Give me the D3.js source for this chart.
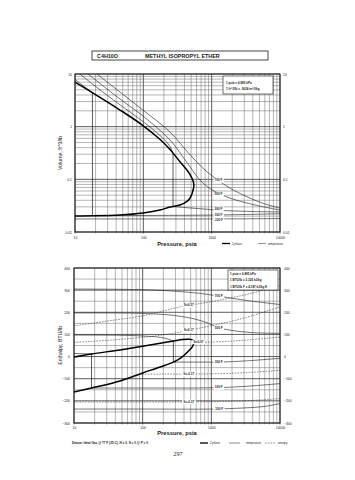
<!DOCTYPE html>
<html><head><meta charset="utf-8">
<script src="https://cdn.jsdelivr.net/npm/d3@7"></script>
<style>
body{margin:0;background:#fff}
svg{display:block;font-family:"Liberation Sans",Arial,sans-serif}
</style></head><body>
<svg id="c" width="355" height="480"></svg>
<script>
// ---------------- data ----------------
const pressureTicks = [10, 100, 1000, 10000];
const volumeTicks = [0.01, 0.1, 1, 10];
const enthalpyTicks = [400, 300, 200, 100, 0, -100, -200, -300];

// Volume chart – saturation dome (psia, ft^3/lb)
const volVapP = [10, 18.4, 45.6, 99, 176, 246, 344, 435, 518, 550];
const volVapV = [7.0, 4.34, 2.07, 1.05, 0.57, 0.37, 0.215, 0.15, 0.104, 0.078];
const volLiqP = [10, 45.6, 99, 176, 246, 344, 435, 483, 520, 550];
const volLiqV = [0.0201, 0.021, 0.0229, 0.0261, 0.0298, 0.0325, 0.038, 0.0442, 0.055, 0.078];
// Volume chart – isotherms
const volT700P = [21, 45.6, 99, 246, 485, 800, 1120, 1860, 3640, 6040, 10000];
const volT700V = [10, 4.54, 2.06, 0.79, 0.29, 0.15, 0.106, 0.068, 0.044, 0.034, 0.0285];
const volT500P = [15.5, 45.6, 99, 246, 410, 675, 1020, 1860, 4330, 10000];
const volT500V = [10, 3.34, 1.59, 0.557, 0.232, 0.097, 0.0626, 0.044, 0.0325, 0.0261];
const volT300VapP = [11.8, 20, 45.6, 99, 180, 240, 272];
const volT300VapV = [10, 5.8, 2.6, 1.25, 0.66, 0.44, 0.31];
const volT300LiqP = [272, 500, 800, 1200, 2000, 4000, 10000];
const volT300LiqV = [0.0305, 0.0285, 0.0272, 0.026, 0.0252, 0.0245, 0.024];
const volT100VapP = [10, 14, 18];
const volT100VapV = [7.9, 5.65, 4.4];
const volT100LiqP = [18, 100, 500, 1000, 3000, 10000];
const volT100LiqV = [0.0205, 0.0206, 0.0208, 0.021, 0.0215, 0.0222];
const volTm100P = [10, 100, 1000, 3000, 10000];
const volTm100V = [0.0177, 0.0177, 0.0177, 0.0178, 0.018];
const volTieP = [18, 272];
const volTieVap = [4.4, 0.31];
const volTieLiq = [0.0201, 0.0305];

// Enthalpy chart – saturation dome (psia, BTU/lb)
const hVapP = [10, 18, 47, 100, 180, 280, 380, 480, 540, 560];
const hVapH = [-2, 12, 30, 47, 60, 70, 77, 78, 74, 68];
const hLiqP = [10, 18, 47, 100, 180, 280, 356, 450, 530, 560];
const hLiqH = [-160, -142, -110, -74, -47, -25, -7, 21, 45, 68];
// Enthalpy chart – isotherms
const hT700P = [10, 100, 300, 700, 1280, 3000, 10000];
const hT700H = [305, 302, 295, 285, 273, 255, 235];
const hT500P = [10, 100, 300, 600, 1000, 1280, 2000, 4000, 10000];
const hT500H = [197, 195, 185, 168, 145, 130, 118, 108, 105];
const hT300VapP = [10, 50, 100, 180, 240, 280];
const hT300VapH = [97, 96, 93, 87, 78, 70];
const hT300LiqP = [280, 1000, 1280, 3000, 10000];
const hT300LiqH = [-25, -25, -25, -20, -8];
const hT100VapP = [10, 18];
const hT100VapH = [14, 12];
const hT100LiqP = [18, 100, 1000, 3000, 10000];
const hT100LiqH = [-142, -142, -141, -135, -122];
const hTm100P = [10, 100, 1000, 3000, 6000, 10000];
const hTm100H = [-237, -237, -237, -232, -225, -212];
const hTieP = [18, 280];
const hTieVap = [12, 70];
const hTieLiq = [-142, -25];
// Enthalpy chart – isentropes
const hS1P = [10, 30, 100, 344, 483, 1000, 3000, 10000];
const hS1H = [139, 160, 184, 224, 232, 248, 278, 320];
const hS2P = [10, 30, 100, 200, 344, 600, 1000, 2000, 4000, 10000];
const hS2H = [64, 73, 87, 98, 110, 125, 140, 160, 185, 225];
const hS3P = [560, 700, 1000, 2000, 4000, 10000];
const hS3H = [68, 65, 66, 70, 77, 88];
const hS4P = [90, 200, 500, 1000, 3000, 10000];
const hS4H = [-80, -79, -79, -78, -73, -62];
const hS5P = [10, 100, 1000, 3000, 10000];
const hS5H = [-205, -205, -204, -200, -190];

// ---------------- drawing ----------------
const svg = d3.select('#c');
const INK = '#1a1a1a';

function minorTicks(lo, hi) {
  const out = [];
  for (let e = Math.log10(lo); e < Math.log10(hi); e++)
    for (let k = 1; k < 10; k++) out.push(k * Math.pow(10, e));
  out.push(hi);
  return out;
}
function lerpLog(p, P, Y, logY) {
  const lp = Math.log10(p);
  for (let i = 0; i < P.length - 1; i++) {
    const a = Math.log10(P[i]), b = Math.log10(P[i + 1]);
    if (lp >= a && lp <= b) {
      const t = (lp - a) / (b - a);
      if (logY) return Math.pow(10, Math.log10(Y[i]) + t * (Math.log10(Y[i + 1]) - Math.log10(Y[i])));
      return Y[i] + t * (Y[i + 1] - Y[i]);
    }
  }
  return Y[Y.length - 1];
}
function tag(g, x, y, text, size) {
  const t = g.append('text').attr('x', x).attr('y', y)
    .attr('text-anchor', 'middle').attr('dominant-baseline', 'central')
    .attr('font-size', size || 3.1).attr('font-weight', 'bold').attr('fill', INK).text(text);
  const b = t.node().getBBox();
  g.insert('rect', () => t.node()).attr('x', b.x - 1.2).attr('y', b.y - 0.3)
    .attr('width', b.width + 2.4).attr('height', b.height + 0.6).attr('fill', '#fff');
}

// Title box
svg.append('rect').attr('x', 92).attr('y', 51).attr('width', 176).attr('height', 9)
  .attr('fill', 'none').attr('stroke', INK).attr('stroke-width', 0.8);
svg.append('text').attr('x', 97).attr('y', 57.8).attr('font-size', 5.4).attr('font-weight', 'bold')
  .attr('fill', INK).text('C4H10O');
svg.append('text').attr('x', 145).attr('y', 57.8).attr('font-size', 5.4).attr('font-weight', 'bold')
  .attr('fill', INK).text('METHYL ISOPROPYL ETHER');

// ---------- TOP CHART (Volume) ----------
{
  const L = 75, R = 280, T = 74, B = 232;
  const x = d3.scaleLog().domain([10, 10000]).range([L, R]);
  const y = d3.scaleLog().domain([0.01, 10]).range([B, T]);
  const g = svg.append('g');
  svg.append('clipPath').attr('id', 'clipT').append('rect')
    .attr('x', L).attr('y', T).attr('width', R - L).attr('height', B - T);

  const px = minorTicks(10, 10000), vy = minorTicks(0.01, 10);
  g.append('g').selectAll('line').data(px).join('line')
    .attr('x1', d => x(d)).attr('x2', d => x(d)).attr('y1', T).attr('y2', B + 1.5)
    .attr('stroke', d => pressureTicks.includes(d) ? '#333' : '#6a6a6a')
    .attr('stroke-width', d => pressureTicks.includes(d) ? 0.8 : 0.5);
  g.append('g').selectAll('line').data(vy).join('line')
    .attr('y1', d => y(d)).attr('y2', d => y(d)).attr('x1', L).attr('x2', R)
    .attr('stroke', d => volumeTicks.includes(d) ? '#333' : '#6a6a6a')
    .attr('stroke-width', d => volumeTicks.includes(d) ? 0.8 : 0.5);
  g.append('rect').attr('x', L).attr('y', T).attr('width', R - L).attr('height', B - T)
    .attr('fill', 'none').attr('stroke', INK).attr('stroke-width', 0.9);

  const fmtV = d => String(d);
  const ax = g.append('g').attr('transform', `translate(${L - 2},0)`)
    .call(d3.axisLeft(y).tickValues(volumeTicks).tickFormat(fmtV).tickSize(0).tickPadding(1));
  const ax2 = g.append('g').attr('transform', `translate(${R + 2},0)`)
    .call(d3.axisRight(y).tickValues(volumeTicks).tickFormat(fmtV).tickSize(0).tickPadding(1));
  const axb = g.append('g').attr('transform', `translate(0,${B + 5})`)
    .call(d3.axisBottom(x).tickValues(pressureTicks).tickFormat(d3.format('d')).tickSize(0).tickPadding(0));
  [ax, ax2, axb].forEach(a => {
    a.select('.domain').remove();
    a.selectAll('text').attr('font-size', 3.4).attr('fill', INK).attr('font-family', 'Liberation Sans, Arial, sans-serif');
  });

  const cg = g.append('g').attr('clip-path', 'url(#clipT)');
  const ln = d3.line().x(d => x(d[0])).y(d => y(d[1])).curve(d3.curveCatmullRom.alpha(0.5));
  const thin = (P, V) => cg.append('path').attr('d', ln(d3.zip(P, V))).attr('fill', 'none')
    .attr('stroke', INK).attr('stroke-width', 0.6);
  thin(volT700P, volT700V);
  thin(volT500P, volT500V);
  thin(volT300VapP, volT300VapV);
  thin(volT300LiqP, volT300LiqV);
  thin(volT100VapP, volT100VapV);
  thin(volT100LiqP, volT100LiqV);
  thin(volTm100P, volTm100V);
  volTieP.forEach((p, i) => cg.append('line').attr('x1', x(p)).attr('x2', x(p))
    .attr('y1', y(volTieVap[i])).attr('y2', y(volTieLiq[i])).attr('stroke', INK).attr('stroke-width', 0.7));
  const dome = d3.zip(volVapP, volVapV).concat(d3.zip(volLiqP, volLiqV).reverse().slice(1));
  cg.append('path').attr('d', ln(dome)).attr('fill', 'none').attr('stroke', '#000').attr('stroke-width', 1.5);

  const lp = 1260;
  tag(g, x(lp), y(lerpLog(lp, volT700P, volT700V, true)), '700 F');
  tag(g, x(lp), y(lerpLog(lp, volT500P, volT500V, true)) + 1.5, '500 F');
  tag(g, x(lp), y(lerpLog(lp, volT300LiqP, volT300LiqV, true)) - 1.2, '300 F');
  tag(g, x(lp), y(lerpLog(lp, volT100LiqP, volT100LiqV, true)) - 0.3, '100 F');
  tag(g, x(lp), y(lerpLog(lp, volTm100P, volTm100V, true)) + 0.6, '-100 F');

  g.append('rect').attr('x', 223).attr('y', 76).attr('width', 50).attr('height', 18)
    .attr('fill', '#fff').attr('stroke', INK).attr('stroke-width', 0.6);
  g.append('text').attr('x', 226).attr('y', 83.5).attr('font-size', 3).attr('font-weight', 'bold').attr('fill', INK).text('1 psia  =  6.895 kPa');
  g.append('text').attr('x', 226).attr('y', 89.5).attr('font-size', 3).attr('font-weight', 'bold').attr('fill', INK).text('1 ft^3/lb  =  .0624 m^3/kg');

  g.append('text').attr('transform', `translate(61.5,${(T + B) / 2}) rotate(-90)`).attr('text-anchor', 'middle')
    .attr('font-size', 5.2).attr('fill', INK).text('Volume, ft^3/lb');
  g.append('text').attr('x', 177).attr('y', 245.5).attr('text-anchor', 'middle')
    .attr('font-size', 5.8).attr('font-weight', 'bold').attr('fill', INK).text('Pressure,  psia');
  g.append('line').attr('x1', 222).attr('x2', 230).attr('y1', 243.5).attr('y2', 243.5).attr('stroke', '#000').attr('stroke-width', 1.3);
  g.append('text').attr('x', 232).attr('y', 244.6).attr('font-size', 2.8).attr('fill', INK).text('2 phase');
  g.append('line').attr('x1', 258).attr('x2', 266).attr('y1', 243.5).attr('y2', 243.5).attr('stroke', INK).attr('stroke-width', 0.5);
  g.append('text').attr('x', 268).attr('y', 244.6).attr('font-size', 2.8).attr('fill', INK).text('temperature');
}

// ---------- BOTTOM CHART (Enthalpy) ----------
{
  const L = 74, R = 280, T = 268, B = 423;
  const x = d3.scaleLog().domain([10, 10000]).range([L, R]);
  const y = d3.scaleLinear().domain([-300, 400]).range([B, T]);
  const g = svg.append('g');
  svg.append('clipPath').attr('id', 'clipB').append('rect')
    .attr('x', L).attr('y', T).attr('width', R - L).attr('height', B - T);

  const px = minorTicks(10, 10000), hy = d3.range(-300, 401, 50);
  g.append('g').selectAll('line').data(px).join('line')
    .attr('x1', d => x(d)).attr('x2', d => x(d)).attr('y1', T).attr('y2', B + 1.5)
    .attr('stroke', d => pressureTicks.includes(d) ? '#333' : '#6a6a6a')
    .attr('stroke-width', d => pressureTicks.includes(d) ? 0.8 : 0.5);
  g.append('g').selectAll('line').data(hy).join('line')
    .attr('y1', d => y(d)).attr('y2', d => y(d)).attr('x1', L).attr('x2', R)
    .attr('stroke', d => d % 100 === 0 ? '#333' : '#6a6a6a')
    .attr('stroke-width', d => d % 100 === 0 ? 0.8 : 0.5);
  g.append('rect').attr('x', L).attr('y', T).attr('width', R - L).attr('height', B - T)
    .attr('fill', 'none').attr('stroke', INK).attr('stroke-width', 0.9);

  const ax = g.append('g').attr('transform', `translate(${L - 3},0)`)
    .call(d3.axisLeft(y).tickValues(enthalpyTicks).tickFormat(d3.format('d')).tickSize(0).tickPadding(1));
  const ax2 = g.append('g').attr('transform', `translate(${R + 3},0)`)
    .call(d3.axisRight(y).tickValues(enthalpyTicks).tickFormat(d3.format('d')).tickSize(0).tickPadding(1));
  const axb = g.append('g').attr('transform', `translate(0,${B + 4})`)
    .call(d3.axisBottom(x).tickValues(pressureTicks).tickFormat(d3.format('d')).tickSize(0).tickPadding(0));
  [ax, ax2, axb].forEach(a => {
    a.select('.domain').remove();
    a.selectAll('text').attr('font-size', 3.4).attr('fill', INK).attr('font-family', 'Liberation Sans, Arial, sans-serif');
  });

  const cg = g.append('g').attr('clip-path', 'url(#clipB)');
  const ln = d3.line().x(d => x(d[0])).y(d => y(d[1])).curve(d3.curveCatmullRom.alpha(0.5));
  const thin = (P, H) => cg.append('path').attr('d', ln(d3.zip(P, H))).attr('fill', 'none')
    .attr('stroke', INK).attr('stroke-width', 0.6);
  const dash = (P, H) => cg.append('path').attr('d', ln(d3.zip(P, H))).attr('fill', 'none')
    .attr('stroke', INK).attr('stroke-width', 0.5).attr('stroke-dasharray', '1.6,1.2');
  thin(hT700P, hT700H);
  thin(hT500P, hT500H);
  thin(hT300VapP, hT300VapH);
  thin(hT300LiqP, hT300LiqH);
  thin(hT100VapP, hT100VapH);
  thin(hT100LiqP, hT100LiqH);
  thin(hTm100P, hTm100H);
  dash(hS1P, hS1H);
  dash(hS2P, hS2H);
  dash(hS3P, hS3H);
  dash(hS4P, hS4H);
  dash(hS5P, hS5H);
  hTieP.forEach((p, i) => cg.append('line').attr('x1', x(p)).attr('x2', x(p))
    .attr('y1', y(hTieVap[i])).attr('y2', y(hTieLiq[i])).attr('stroke', INK).attr('stroke-width', 0.7));
  const dome = d3.zip(hVapP, hVapH).concat(d3.zip(hLiqP, hLiqH).reverse().slice(1));
  cg.append('path').attr('d', ln(dome)).attr('fill', 'none').attr('stroke', '#000').attr('stroke-width', 1.5);

  const lp = 1280, sp = 470;
  tag(g, x(lp), y(lerpLog(lp, hT700P, hT700H, false)), '700 F');
  tag(g, x(lp), y(lerpLog(lp, hT500P, hT500H, false)), '500 F');
  tag(g, x(lp), y(lerpLog(lp, hT300LiqP, hT300LiqH, false)), '300 F');
  tag(g, x(lp), y(lerpLog(lp, hT100LiqP, hT100LiqH, false)), '100 F');
  tag(g, x(lp), y(lerpLog(lp, hTm100P, hTm100H, false)), '-100 F');
  tag(g, x(sp), y(lerpLog(sp, hS1P, hS1H, false)), 'S=0.27');
  tag(g, x(sp), y(lerpLog(sp, hS2P, hS2H, false)), 'S=0.17');
  tag(g, x(650), y(lerpLog(650, hS3P, hS3H, false)), 'S=0.07');
  tag(g, x(sp), y(lerpLog(sp, hS4P, hS4H, false)), 'S=-0.17');
  tag(g, x(sp), y(lerpLog(sp, hS5P, hS5H, false)), 'S=-0.37');

  g.append('rect').attr('x', 228).attr('y', 270).attr('width', 50).attr('height', 20)
    .attr('fill', '#fff').attr('stroke', INK).attr('stroke-width', 0.6);
  [['1 psia  =  6.895 kPa', 275], ['1 BTU/lb  =  2.326 kJ/kg', 281.3], ['1 BTU/lb F  =  4.187 kJ/kg K', 287.6]]
    .forEach(([t, yy]) => g.append('text').attr('x', 230).attr('y', yy).attr('font-size', 3)
      .attr('font-weight', 'bold').attr('fill', INK).text(t));

  g.append('text').attr('transform', `translate(61.5,${(T + B) / 2}) rotate(-90)`).attr('text-anchor', 'middle')
    .attr('font-size', 5.2).attr('fill', INK).text('Enthalpy, BTU/lb');
  g.append('text').attr('x', 177).attr('y', 435).attr('text-anchor', 'middle')
    .attr('font-size', 5.8).attr('font-weight', 'bold').attr('fill', INK).text('Pressure,  psia');

  g.append('text').attr('x', 72).attr('y', 444).attr('font-size', 2.8).attr('font-weight', 'bold')
    .attr('textLength', 76).attr('lengthAdjust', 'spacingAndGlyphs').attr('fill', INK)
    .text('Datum: Ideal Gas @ 77 F (25 C), H = 0, S = 0 @ P = 0');
  g.append('line').attr('x1', 200).attr('x2', 208).attr('y1', 443).attr('y2', 443).attr('stroke', '#000').attr('stroke-width', 1.3);
  g.append('text').attr('x', 210).attr('y', 444).attr('font-size', 2.8).attr('fill', INK).text('2 phase');
  g.append('line').attr('x1', 229).attr('x2', 240).attr('y1', 443).attr('y2', 443).attr('stroke', INK).attr('stroke-width', 0.5);
  g.append('text').attr('x', 246).attr('y', 444).attr('font-size', 2.8).attr('fill', INK).text('temperature');
  g.append('line').attr('x1', 265).attr('x2', 275).attr('y1', 443).attr('y2', 443).attr('stroke', INK).attr('stroke-width', 0.5).attr('stroke-dasharray', '1.6,1.2');
  g.append('text').attr('x', 278).attr('y', 444).attr('font-size', 2.8).attr('fill', INK).text('entropy');
}

svg.append('text').attr('x', 178).attr('y', 456).attr('text-anchor', 'middle')
  .attr('font-family', 'Liberation Serif, Times New Roman, serif').attr('font-size', 6.2).attr('fill', INK).text('297');
</script>
</body></html>
